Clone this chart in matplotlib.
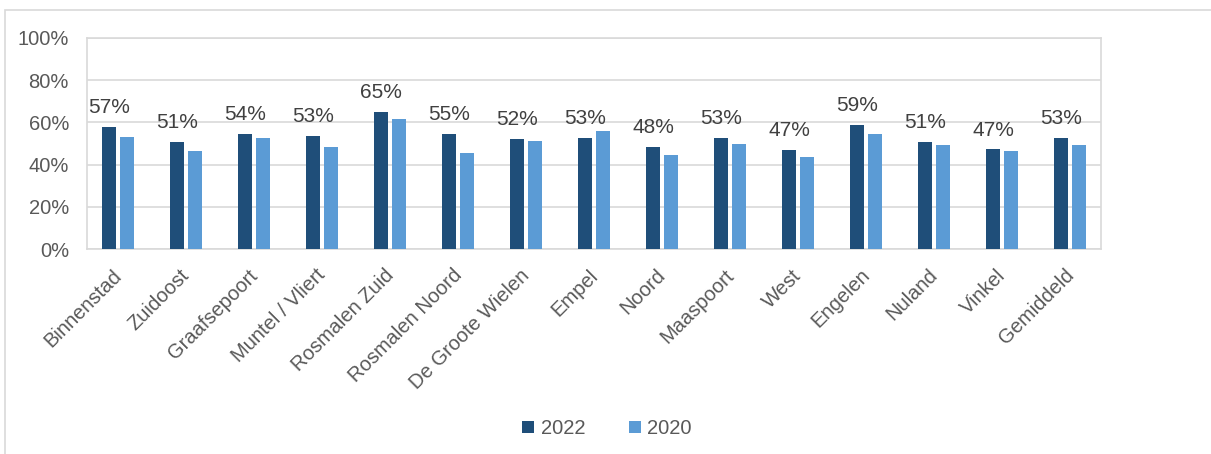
import matplotlib.pyplot as plt
import numpy as np
from matplotlib.patches import Rectangle
from matplotlib.ticker import PercentFormatter
from matplotlib.transforms import ScaledTranslation

plt.rcParams['font.family'] = ['Liberation Sans', 'DejaVu Sans']

# --- data ---
wijken = ['Binnenstad', 'Zuidoost', 'Graafsepoort', 'Muntel / Vliert', 'Rosmalen Zuid',
          'Rosmalen Noord', 'De Groote Wielen', 'Empel', 'Noord', 'Maaspoort', 'West',
          'Engelen', 'Nuland', 'Vinkel', 'Gemiddeld']
waarden_2022 = [0.577, 0.509, 0.545, 0.536, 0.651, 0.547, 0.520, 0.526, 0.483, 0.526,
                0.468, 0.590, 0.507, 0.472, 0.526]
waarden_2020 = [0.531, 0.464, 0.524, 0.485, 0.615, 0.455, 0.512, 0.561, 0.444, 0.496,
                0.435, 0.543, 0.493, 0.464, 0.491]
labels_2022 = ['57%', '51%', '54%', '53%', '65%', '55%', '52%', '53%', '48%', '53%',
               '47%', '59%', '51%', '47%', '53%']

donker = '#1F4E79'
licht = '#5B9BD5'
tekst = '#595959'
raster = '#D9D9D9'

fig = plt.figure(figsize=(12.11, 4.54), dpi=100)
ax = fig.add_axes([0.0718, 0.4515, 0.8374, 0.4648])

# outer frame of the chart area
fig.patches.append(Rectangle((5 / 1211, -0.01), 1.1, 1 - 10 / 454 + 0.01,
                             transform=fig.transFigure, fill=False,
                             edgecolor=raster, linewidth=1.2))

x = np.arange(len(wijken))
w = 0.205
off = 0.132
ax.bar(x - off, waarden_2022, w, color=donker, label='2022', zorder=3)
ax.bar(x + off, waarden_2020, w, color=licht, label='2020', zorder=3)

for xi, v, lab in zip(x, waarden_2022, labels_2022):
    ax.annotate(lab, (xi - off, v), xytext=(0, 10), textcoords='offset points',
                ha='center', va='baseline', fontsize=15, color='#404040')

ax.set_xlim(-0.455, len(wijken) - 0.545)
ax.set_ylim(0, 1.0)
ax.set_yticks(np.arange(0, 1.01, 0.2))
ax.yaxis.set_major_formatter(PercentFormatter(1.0, decimals=0))
ax.grid(axis='y', color=raster, linewidth=1.2, zorder=0)
for s in ax.spines.values():
    s.set_color(raster)
    s.set_linewidth(1.2)

ax.tick_params(axis='both', length=0, colors=tekst, labelsize=14.5)
ax.tick_params(axis='y', pad=13)
ax.set_xticks(x)
ax.set_xticklabels(wijken, rotation=45, ha='right', rotation_mode='anchor', fontsize=14.5)
ax.tick_params(axis='x', pad=12)
# nudge the rotated labels a bit to the left, like the original
shift = ScaledTranslation(-6 / 100, 0, fig.dpi_scale_trans)
for lbl in ax.get_xticklabels():
    lbl.set_transform(lbl.get_transform() + shift)

leg = ax.legend(loc='upper center', bbox_to_anchor=(0.513, -0.72), ncol=2, frameon=False,
                fontsize=14.5, handlelength=0.6, handleheight=0.6, handletextpad=0.3,
                columnspacing=2.2)
for t in leg.get_texts():
    t.set_color(tekst)

fig.savefig('out.png', dpi=100)
